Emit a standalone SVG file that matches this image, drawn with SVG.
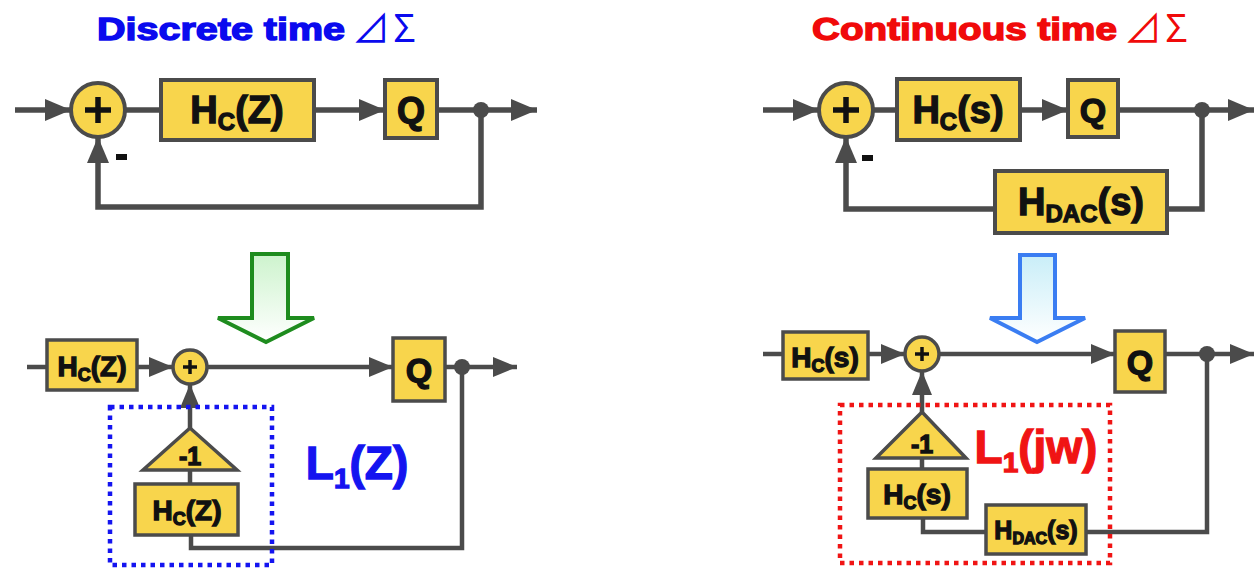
<svg xmlns="http://www.w3.org/2000/svg" width="1255" height="572" viewBox="0 0 1255 572">
<defs>
<style>
.ln{fill:none;stroke:#4b4b4b;stroke-width:5.5;stroke-linejoin:miter}
.ln2{fill:none;stroke:#4b4b4b;stroke-width:4.5}
.box{fill:#f8d54c;stroke:#4b4b4b;stroke-width:4}
.box2{fill:#f8d54c;stroke:#4b4b4b;stroke-width:3.5}
.lbl{font-family:"Liberation Sans",Arial,sans-serif;font-weight:bold;stroke-width:1.3;text-anchor:middle}
.blk{fill:#111;stroke:#111}
.dot{fill:#4b4b4b}
.ttl{font-family:"Liberation Sans",Arial,sans-serif;font-weight:bold;font-size:32px}
.sym{font-family:"Noto Sans CJK JP","DejaVu Sans",sans-serif;font-weight:normal;font-size:38px;letter-spacing:3px}
</style>
<marker id="ah" markerUnits="userSpaceOnUse" markerWidth="28" markerHeight="22" refX="26" refY="11" orient="auto"><path d="M0,0 L26,11 L0,22 Z" fill="#4b4b4b"/></marker>
<marker id="ah2" markerUnits="userSpaceOnUse" markerWidth="26" markerHeight="20" refX="24" refY="10" orient="auto"><path d="M0,0 L24,10 L0,20 Z" fill="#4b4b4b"/></marker>
<linearGradient id="gG" x1="0" y1="0" x2="0" y2="1"><stop offset="0" stop-color="#cdf3cd"/><stop offset="1" stop-color="#ffffff"/></linearGradient>
<linearGradient id="gB" x1="0" y1="0" x2="0" y2="1"><stop offset="0" stop-color="#c9eef8"/><stop offset="1" stop-color="#ffffff"/></linearGradient>
</defs>

<!-- Titles -->
<g id="title-dt">
<text x="97" y="40" class="ttl" fill="#0a0aee" stroke="#0a0aee" stroke-width="1.4" textLength="248" lengthAdjust="spacingAndGlyphs">Discrete time</text>
<text x="352" y="42" class="sym" fill="#0a0aee">⊿Σ</text>
</g>
<g id="title-ct">
<text x="812" y="40" class="ttl" fill="#f00a0a" stroke="#f00a0a" stroke-width="1.4" textLength="305" lengthAdjust="spacingAndGlyphs">Continuous time</text>
<text x="1124" y="42" class="sym" fill="#f00a0a">⊿Σ</text>
</g>

<!-- Connectors -->
<g id="connectors">
  <!-- top-left -->
  <line class="ln" x1="15" y1="110" x2="71" y2="110" marker-end="url(#ah)"/>
  <line class="ln" x1="125" y1="110" x2="161" y2="110"/>
  <line class="ln" x1="314" y1="110" x2="385" y2="110" marker-end="url(#ah)"/>
  <line class="ln" x1="437" y1="110" x2="537" y2="110" marker-end="url(#ah)"/>
  <path class="ln" d="M481,110 V207 H98 V137" marker-end="url(#ah)"/>
  <!-- top-right -->
  <line class="ln" x1="763" y1="110" x2="819" y2="110" marker-end="url(#ah)"/>
  <line class="ln" x1="873" y1="110" x2="897" y2="110"/>
  <line class="ln" x1="1020" y1="110" x2="1068" y2="110" marker-end="url(#ah)"/>
  <line class="ln" x1="1118" y1="110" x2="1254" y2="110" marker-end="url(#ah)"/>
  <path class="ln" d="M1202,110 V209 H1167"/>
  <path class="ln" d="M995,209 H846 V137" marker-end="url(#ah)"/>
  <!-- bottom-left -->
  <line class="ln2" x1="27" y1="367" x2="47" y2="367"/>
  <line class="ln2" x1="137" y1="367" x2="173" y2="367" marker-end="url(#ah2)"/>
  <line class="ln2" x1="208" y1="367" x2="393" y2="367" marker-end="url(#ah2)"/>
  <line class="ln2" x1="445" y1="367" x2="517" y2="367" marker-end="url(#ah2)"/>
  <path class="ln2" d="M462,367 V548 H191 V535"/>
  <line class="ln2" x1="190" y1="428" x2="190" y2="384" marker-end="url(#ah2)"/>
  <line class="ln2" x1="190" y1="470" x2="190" y2="484"/>
  <!-- bottom-right -->
  <line class="ln2" x1="763" y1="354" x2="783" y2="354"/>
  <line class="ln2" x1="868" y1="354" x2="905" y2="354" marker-end="url(#ah2)"/>
  <line class="ln2" x1="940" y1="354" x2="1115" y2="354" marker-end="url(#ah2)"/>
  <line class="ln2" x1="1165" y1="354" x2="1254" y2="354" marker-end="url(#ah2)"/>
  <path class="ln2" d="M1207,354 V532 H1086"/>
  <path class="ln2" d="M986,532 H923 V518"/>
  <line class="ln2" x1="922" y1="412" x2="922" y2="371" marker-end="url(#ah2)"/>
  <line class="ln2" x1="922" y1="458" x2="922" y2="469"/>
  <circle class="dot" cx="481" cy="110" r="8"/>
  <circle class="dot" cx="1202" cy="110" r="8"/>
  <circle class="dot" cx="462" cy="367" r="8"/>
  <circle class="dot" cx="1207" cy="354" r="8"/>
</g>

<!-- Top-left nodes -->
<g id="tl-sum"><circle class="box" cx="98" cy="110" r="27"/><path d="M85,110 H111 M98,97 V123" stroke="#111" stroke-width="5.5"/></g>
<rect id="tl-minus" x="116" y="154" width="11" height="6" fill="#111"/>
<g id="tl-hc"><rect class="box" x="161" y="80" width="153" height="60"/><text x="237" y="123" class="lbl blk" font-size="38">H<tspan font-size="24" dy="7">C</tspan><tspan dy="-7">(Z)</tspan></text></g>
<g id="tl-q"><rect class="box" x="385" y="80" width="52" height="58"/><text x="411" y="123" class="lbl blk" font-size="36">Q</text></g>

<!-- Top-right nodes -->
<g id="tr-sum"><circle class="box" cx="846" cy="110" r="27"/><path d="M833,110 H859 M846,97 V123" stroke="#111" stroke-width="5.5"/></g>
<rect id="tr-minus" x="862" y="155" width="11" height="6" fill="#111"/>
<g id="tr-hc"><rect class="box" x="897" y="79" width="123" height="61"/><text x="958" y="123" class="lbl blk" font-size="38">H<tspan font-size="24" dy="7">C</tspan><tspan dy="-7">(s)</tspan></text></g>
<g id="tr-q"><rect class="box" x="1068" y="80" width="50" height="57"/><text x="1093" y="122" class="lbl blk" font-size="34">Q</text></g>
<g id="tr-hdac"><rect class="box" x="995" y="171" width="172" height="62"/><text x="1081" y="215" class="lbl blk" font-size="38">H<tspan font-size="24" dy="7">DAC</tspan><tspan dy="-7">(s)</tspan></text></g>

<!-- Transform arrows -->
<polygon id="arrow-green" points="252,254 288,254 288,318 314,318 266,342 218,318 252,318" fill="url(#gG)" stroke="#1e8c1e" stroke-width="4"/>
<polygon id="arrow-blue" points="1020,255 1055,255 1055,318 1085,318 1037,342 990,318 1020,318" fill="url(#gB)" stroke="#3a7df2" stroke-width="4"/>

<!-- Bottom-left nodes -->
<g id="bl-hc"><rect class="box2" x="47" y="340" width="90" height="50"/><text x="92" y="376" class="lbl blk" font-size="28">H<tspan font-size="18" dy="5">C</tspan><tspan dy="-5">(Z)</tspan></text></g>
<g id="bl-sum"><circle class="box2" cx="190" cy="367" r="17"/><path d="M183,367 H197 M190,360 V374" stroke="#111" stroke-width="3.5"/></g>
<g id="bl-q"><rect class="box2" x="393" y="338" width="52" height="63"/><text x="419" y="382" class="lbl blk" font-size="34">Q</text></g>
<g id="bl-gain"><polygon class="box2" points="190,428 237,470 143,470"/><text x="190" y="465" class="lbl blk" font-size="25">-1</text></g>
<g id="bl-hc2"><rect class="box2" x="135" y="484" width="103" height="51"/><text x="187" y="520" class="lbl blk" font-size="28">H<tspan font-size="18" dy="5">C</tspan><tspan dy="-5">(Z)</tspan></text></g>
<g id="bl-loop"><rect x="110" y="407" width="162" height="158" fill="none" stroke="#1414f0" stroke-width="4.5" stroke-dasharray="4.5 5"/><text x="357" y="479" class="lbl" font-size="46" fill="#1414f0" stroke="#1414f0">L<tspan font-size="28" dy="9">1</tspan><tspan dy="-9">(Z)</tspan></text></g>

<!-- Bottom-right nodes -->
<g id="br-hc"><rect class="box2" x="783" y="332" width="85" height="47"/><text x="825" y="367" class="lbl blk" font-size="28">H<tspan font-size="18" dy="5">C</tspan><tspan dy="-5">(s)</tspan></text></g>
<g id="br-sum"><circle class="box2" cx="922" cy="354" r="17"/><path d="M915,354 H929 M922,347 V361" stroke="#111" stroke-width="3.5"/></g>
<g id="br-q"><rect class="box2" x="1115" y="331" width="50" height="61"/><text x="1140" y="374" class="lbl blk" font-size="34">Q</text></g>
<g id="br-gain"><polygon class="box2" points="922,412 966,458 876,458"/><text x="922" y="453" class="lbl blk" font-size="25">-1</text></g>
<g id="br-hc2"><rect class="box2" x="868" y="469" width="99" height="49"/><text x="917" y="504" class="lbl blk" font-size="28">H<tspan font-size="18" dy="5">C</tspan><tspan dy="-5">(s)</tspan></text></g>
<g id="br-hdac"><rect class="box2" x="986" y="505" width="100" height="49"/><text x="1036" y="539" class="lbl blk" font-size="25">H<tspan font-size="16" dy="5">DAC</tspan><tspan dy="-5">(s)</tspan></text></g>
<g id="br-loop"><rect x="840" y="405" width="270" height="158" fill="none" stroke="#f01414" stroke-width="4.5" stroke-dasharray="4.5 5"/><text x="1036" y="463" class="lbl" font-size="46" fill="#f01414" stroke="#f01414">L<tspan font-size="28" dy="9">1</tspan><tspan dy="-9">(jw)</tspan></text></g>
</svg>
